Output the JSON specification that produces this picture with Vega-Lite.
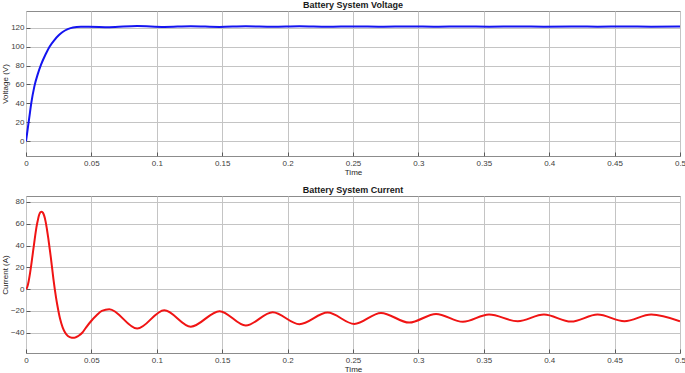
{
  "$schema": "https://vega.github.io/schema/vega-lite/v6.json",
  "padding": {"left": 0, "top": 0, "right": 4, "bottom": 0},
  "background": "white",
  "spacing": 8,
  "config": {
    "font": "Liberation Sans",
    "view": {"stroke": "#8c8c8c", "strokeWidth": 1},
    "title": {"fontSize": 9, "fontWeight": "bold", "color": "#1a1a1a", "offset": 1, "anchor": "middle"},
    "axis": {
      "labelFont": "Liberation Sans", "labelFontSize": 8, "labelColor": "#404040",
      "titleFont": "Liberation Sans", "titleFontSize": 8, "titleFontWeight": "normal", "titleColor": "#262626",
      "gridColor": "#c4c4c4", "gridWidth": 1, "domain": false,
      "tickSize": -4, "tickColor": "#5a5a5a"
    },
    "axisX": {"labelPadding": 7, "titlePadding": 1},
    "axisY": {"labelPadding": 6, "titlePadding": 1}
  },
  "datasets": {
    "voltage": [
      {"t": 0, "v": 0}, {"t": 0.001, "v": 10}, {"t": 0.0025, "v": 25}, {"t": 0.004, "v": 40},
      {"t": 0.0064, "v": 58}, {"t": 0.009, "v": 71}, {"t": 0.0115, "v": 81}, {"t": 0.015, "v": 92},
      {"t": 0.018, "v": 100}, {"t": 0.0217, "v": 107}, {"t": 0.025, "v": 112}, {"t": 0.028, "v": 115.5},
      {"t": 0.0319, "v": 118.5}, {"t": 0.036, "v": 120.3}, {"t": 0.042, "v": 121}, {"t": 0.048, "v": 121.1},
      {"t": 0.0637, "v": 120.6}, {"t": 0.085, "v": 121.8}, {"t": 0.1057, "v": 120.8}, {"t": 0.126, "v": 121.6},
      {"t": 0.148, "v": 120.9}, {"t": 0.168, "v": 121.5}, {"t": 0.1886, "v": 121.0}, {"t": 0.209, "v": 121.5},
      {"t": 0.2306, "v": 121.0}, {"t": 0.251, "v": 121.4}, {"t": 0.2714, "v": 121.1}, {"t": 0.293, "v": 121.4},
      {"t": 0.3135, "v": 121.1}, {"t": 0.334, "v": 121.4}, {"t": 0.354, "v": 121.15}, {"t": 0.376, "v": 121.35},
      {"t": 0.396, "v": 121.15}, {"t": 0.4167, "v": 121.35}, {"t": 0.437, "v": 121.15}, {"t": 0.4575, "v": 121.35},
      {"t": 0.478, "v": 121.15}, {"t": 0.5, "v": 121.35}
    ],
    "current": [
      {"t": 0, "v": 0}, {"t": 0.001, "v": 2}, {"t": 0.002, "v": 7}, {"t": 0.003, "v": 14},
      {"t": 0.004, "v": 22}, {"t": 0.005, "v": 31}, {"t": 0.006, "v": 40}, {"t": 0.007, "v": 49},
      {"t": 0.008, "v": 57}, {"t": 0.009, "v": 63}, {"t": 0.010, "v": 68}, {"t": 0.011, "v": 70.5},
      {"t": 0.012, "v": 71}, {"t": 0.013, "v": 70}, {"t": 0.014, "v": 67}, {"t": 0.015, "v": 62},
      {"t": 0.016, "v": 55}, {"t": 0.017, "v": 47}, {"t": 0.018, "v": 38}, {"t": 0.019, "v": 29},
      {"t": 0.020, "v": 19}, {"t": 0.021, "v": 9}, {"t": 0.022, "v": 0}, {"t": 0.023, "v": -8},
      {"t": 0.024, "v": -15}, {"t": 0.026, "v": -27}, {"t": 0.028, "v": -35}, {"t": 0.030, "v": -40},
      {"t": 0.032, "v": -43}, {"t": 0.035, "v": -44.5}, {"t": 0.037, "v": -44.6}, {"t": 0.040, "v": -43},
      {"t": 0.043, "v": -40}, {"t": 0.046, "v": -35}, {"t": 0.050, "v": -29}, {"t": 0.054, "v": -24},
      {"t": 0.058, "v": -20}, {"t": 0.0637, "v": -18.4},
      {"t": 0.085, "v": -36.2}, {"t": 0.1057, "v": -19.3}, {"t": 0.126, "v": -34.4}, {"t": 0.148, "v": -20.2},
      {"t": 0.168, "v": -33.4}, {"t": 0.1886, "v": -21.2}, {"t": 0.209, "v": -32.2}, {"t": 0.2306, "v": -21.5},
      {"t": 0.251, "v": -31.9}, {"t": 0.2714, "v": -21.8}, {"t": 0.293, "v": -30.7}, {"t": 0.3135, "v": -22.7},
      {"t": 0.334, "v": -30.0}, {"t": 0.354, "v": -23.3}, {"t": 0.376, "v": -29.5}, {"t": 0.396, "v": -23.3},
      {"t": 0.4167, "v": -29.8}, {"t": 0.437, "v": -23.3}, {"t": 0.4575, "v": -29.5}, {"t": 0.478, "v": -23.3},
      {"t": 0.5, "v": -29.5}
    ]
  },
  "vconcat": [
    {
      "title": "Battery System Voltage",
      "width": 654, "height": 145,
      "data": {"name": "voltage"},
      "mark": {"type": "line", "color": "#1414f0", "strokeWidth": 2, "interpolate": "monotone", "clip": true},
      "encoding": {
        "x": {"field": "t", "type": "quantitative", "title": "Time",
              "scale": {"domain": [0, 0.5], "nice": false, "zero": false},
              "axis": {"values": [0, 0.05, 0.1, 0.15, 0.2, 0.25, 0.3, 0.35, 0.4, 0.45, 0.5], "format": "~g", "labelFlush": false}},
        "y": {"field": "v", "type": "quantitative", "title": "Voltage (V)",
              "scale": {"domain": [-15.6, 137.7], "nice": false, "zero": false},
              "axis": {"values": [0, 20, 40, 60, 80, 100, 120]}}
      }
    },
    {
      "title": "Battery System Current",
      "width": 654, "height": 157,
      "data": {"name": "current"},
      "mark": {"type": "line", "color": "#f01414", "strokeWidth": 2, "interpolate": "monotone", "clip": true},
      "encoding": {
        "x": {"field": "t", "type": "quantitative", "title": "Time",
              "scale": {"domain": [0, 0.5], "nice": false, "zero": false},
              "axis": {"values": [0, 0.05, 0.1, 0.15, 0.2, 0.25, 0.3, 0.35, 0.4, 0.45, 0.5], "format": "~g", "labelFlush": false}},
        "y": {"field": "v", "type": "quantitative", "title": "Current (A)",
              "scale": {"domain": [-58.6, 85.5], "nice": false, "zero": false},
              "axis": {"values": [-40, -20, 0, 20, 40, 60, 80]}}
      }
    }
  ]
}
